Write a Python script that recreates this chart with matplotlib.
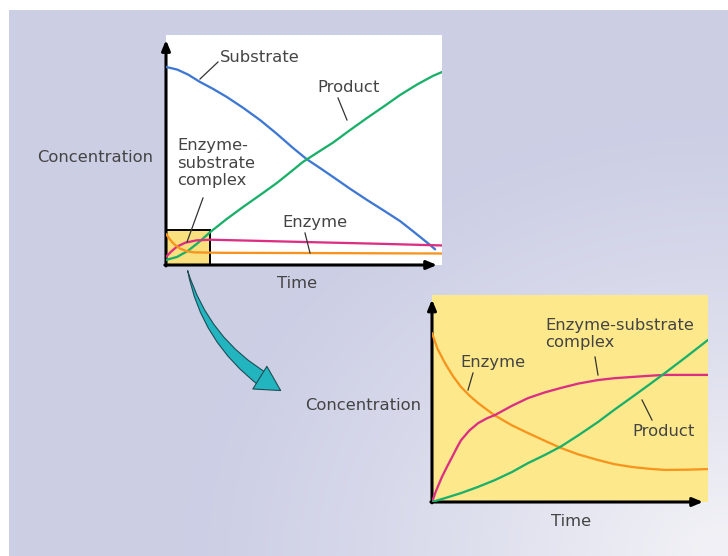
import numpy as np
import matplotlib
matplotlib.use("Agg")
import matplotlib.pyplot as plt
from matplotlib.lines import Line2D
from matplotlib.patches import Rectangle, FancyArrowPatch

# ---------------- data ----------------
# Overview panel (time and concentration as fractions of the axes)
top_substrate_t = [0.0, 0.04, 0.08, 0.123, 0.17, 0.221, 0.28, 0.341, 0.40, 0.460, 0.51,
                   0.56, 0.605, 0.665, 0.728, 0.79, 0.848, 0.90, 0.957, 0.975]
top_substrate_c = [0.861, 0.850, 0.828, 0.796, 0.766, 0.730, 0.683, 0.630, 0.572, 0.509, 0.46,
                   0.42, 0.383, 0.333, 0.283, 0.236, 0.191, 0.142, 0.087, 0.068]

top_product_t = [0.0, 0.04, 0.08, 0.12, 0.159, 0.22, 0.279, 0.35, 0.402, 0.45, 0.496, 0.55,
                 0.605, 0.665, 0.728, 0.79, 0.848, 0.91, 0.967, 1.0]
top_product_c = [0.022, 0.035, 0.062, 0.10, 0.142, 0.200, 0.252, 0.312, 0.357, 0.403, 0.448, 0.49,
                 0.532, 0.585, 0.639, 0.69, 0.739, 0.785, 0.822, 0.839]

top_complex_t = [0.0, 0.02, 0.04, 0.07, 0.11, 0.16, 0.3, 0.5, 0.75, 1.0]
top_complex_c = [0.035, 0.06, 0.08, 0.097, 0.107, 0.11, 0.106, 0.10, 0.093, 0.085]

top_enzyme_t = [0.0, 0.015, 0.03, 0.05, 0.075, 0.10, 0.2, 0.5, 1.0]
top_enzyme_c = [0.135, 0.11, 0.09, 0.072, 0.06, 0.055, 0.053, 0.052, 0.05]

zoom_box_t = 0.159
zoom_box_c = 0.152

# Zoomed panel
bot_enzyme_t = [0.0, 0.02, 0.047, 0.075, 0.105, 0.135, 0.167, 0.2, 0.228, 0.29, 0.348, 0.41,
                0.467, 0.53, 0.601, 0.66, 0.725, 0.79, 0.844, 0.92, 1.0]
bot_enzyme_c = [0.816, 0.74, 0.671, 0.61, 0.556, 0.515, 0.478, 0.445, 0.418, 0.37, 0.333, 0.295,
                0.261, 0.23, 0.203, 0.183, 0.169, 0.16, 0.155, 0.156, 0.159]

bot_complex_t = [0.0, 0.015, 0.036, 0.055, 0.072, 0.09, 0.105, 0.135, 0.167, 0.2, 0.228, 0.29,
                 0.348, 0.41, 0.467, 0.53, 0.601, 0.66, 0.725, 0.79, 0.844, 0.92, 1.0]
bot_complex_c = [0.0, 0.055, 0.121, 0.172, 0.215, 0.262, 0.298, 0.345, 0.381, 0.405, 0.420, 0.465,
                 0.502, 0.53, 0.551, 0.572, 0.589, 0.598, 0.604, 0.61, 0.614, 0.614, 0.614]

bot_product_t = [0.0, 0.05, 0.105, 0.165, 0.228, 0.29, 0.348, 0.41, 0.467, 0.53, 0.601, 0.66,
                 0.725, 0.785, 0.844, 0.92, 1.0]
bot_product_c = [0.0, 0.02, 0.043, 0.072, 0.106, 0.145, 0.188, 0.228, 0.268, 0.322, 0.386, 0.445,
                 0.507, 0.565, 0.623, 0.70, 0.783]

# ---------------- styling ----------------
W, H = 728, 556
BLUE = "#3f78d2"
GREEN = "#1bb06a"
PINK = "#dc2f83"
ORANGE = "#f7941e"
TEXT = "#444444"
FS = 11.8
plt.rcParams['font.family'] = ['DejaVu Sans']


def fx(x):
    return x / W


def fy(y):
    return 1 - y / H


fig = plt.figure(figsize=(W / 100, H / 100), dpi=100, facecolor="white")

# background gradient (lavender, lighter to bottom-right)
bg = fig.add_axes([fx(9), 0, 1 - fx(9), fy(10)])
gx, gy = np.meshgrid(np.linspace(9, W, 360), np.linspace(10, H, 280))
d = np.sqrt(((gx - W) / 520.0) ** 2 + ((gy - H) / 420.0) ** 2)
t = np.clip(1.05 - d, 0, 1) ** 1.2
c0 = np.array([0.800, 0.808, 0.898])
c1 = np.array([0.945, 0.945, 0.965])
img = c0[None, None, :] * (1 - t[..., None]) + c1[None, None, :] * t[..., None]
bg.imshow(img, extent=[0, 1, 0, 1], aspect="auto", interpolation="bilinear")
bg.set_axis_off()


def setup_axes(ax, face):
    ax.set_facecolor(face)
    ax.set_xlim(0, 1)
    ax.set_ylim(0, 1)
    for s in ax.spines.values():
        s.set_visible(False)
    ax.set_xticks([])
    ax.set_yticks([])
    ax.annotate("", xy=(0, 0.978), xytext=(0, -0.004), xycoords="axes fraction",
                arrowprops=dict(arrowstyle="-|>,head_length=0.6,head_width=0.25",
                                lw=2.2, color="black", shrinkA=0, shrinkB=0))
    ax.annotate("", xy=(0.982, 0), xytext=(-0.004, 0), xycoords="axes fraction",
                arrowprops=dict(arrowstyle="-|>,head_length=0.6,head_width=0.25",
                                lw=2.2, color="black", shrinkA=0, shrinkB=0))


lw = 1.65
kw = dict(lw=lw, zorder=3, solid_capstyle="round", solid_joinstyle="round")

# ---------------- top panel ----------------
ax1 = fig.add_axes([fx(166), fy(265), (442 - 166) / W, (265 - 35) / H])
setup_axes(ax1, "white")
ax1.add_patch(Rectangle((0, 0), zoom_box_t, zoom_box_c, facecolor="#f9df7d",
                        edgecolor="black", lw=1.4, zorder=1))
ax1.plot(top_substrate_t, top_substrate_c, color=BLUE, **kw)
ax1.plot(top_product_t, top_product_c, color=GREEN, **kw)
ax1.plot(top_complex_t, top_complex_c, color=PINK, **kw)
ax1.plot(top_enzyme_t, top_enzyme_c, color=ORANGE, **kw)

# ---------------- bottom panel ----------------
ax2 = fig.add_axes([fx(432), fy(502), (708 - 432) / W, (502 - 295) / H])
setup_axes(ax2, "#fde98b")
ax2.plot(bot_enzyme_t, bot_enzyme_c, color=ORANGE, **kw)
ax2.plot(bot_complex_t, bot_complex_c, color=PINK, **kw)
ax2.plot(bot_product_t, bot_product_c, color=GREEN, **kw)

# ---------------- texts ----------------
def label(x, y, s, ha="left", va="center"):
    fig.text(fx(x), fy(y), s, ha=ha, va=va, fontsize=FS, color=TEXT, linespacing=1.2)


label(153, 158, "Concentration", ha="right")
label(297, 283, "Time", ha="center")
label(220, 57, "Substrate")
label(317, 87, "Product")
label(177, 163, "Enzyme-\nsubstrate\ncomplex")
label(282, 222, "Enzyme")

label(421, 406, "Concentration", ha="right")
label(571, 522, "Time", ha="center")
label(545, 334, "Enzyme-substrate\ncomplex")
label(460, 362, "Enzyme")
label(632, 432, "Product")

# pointer lines
pointers = [((218, 62), (200, 79)), ((338, 98), (347, 120)), ((203, 198), (187, 242)),
            ((305, 233), (310, 253)), ((595, 357), (598, 375)), ((473, 373), (468, 390)),
            ((652, 420), (642, 400))]
for (xa, ya), (xb, yb) in pointers:
    fig.add_artist(Line2D([fx(xa), fx(xb)], [fy(ya), fy(yb)], color="#333333", lw=0.9))

# teal curved arrow: tapered body + head
TEAL = "#22b4bf"
EDGE = "#1d4d55"
body = FancyArrowPatch((fx(267), fy(382)), (fx(187), fy(268)), transform=fig.transFigure,
                       connectionstyle="arc3,rad=-0.2",
                       arrowstyle="wedge,tail_width=0.9,shrink_factor=0.5",
                       mutation_scale=12, facecolor=TEAL, edgecolor=EDGE, lw=0.8)
fig.add_artist(body)
head = FancyArrowPatch((fx(262), fy(379)), (fx(283), fy(392)), transform=fig.transFigure,
                       arrowstyle="simple,head_length=1.1,head_width=1.2,tail_width=0.01",
                       mutation_scale=16, facecolor=TEAL, edgecolor=EDGE, lw=0.8)
fig.add_artist(head)

fig.savefig("out.png", dpi=100, facecolor="white")
